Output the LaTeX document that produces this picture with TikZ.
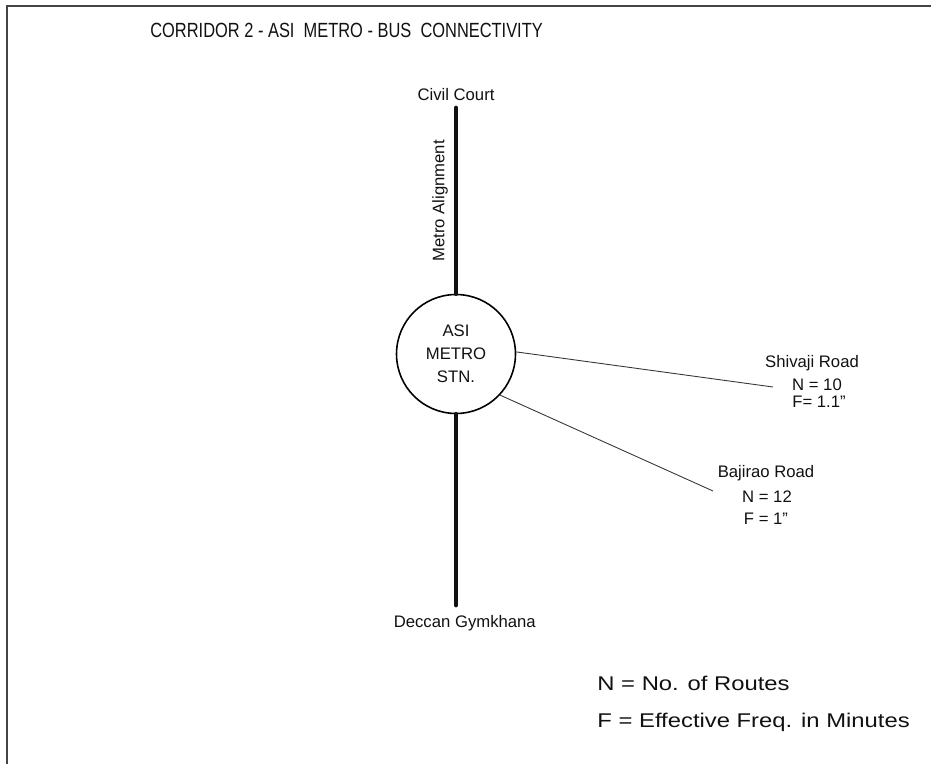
\documentclass[tikz,border=0pt]{standalone}
\usepackage{fontspec}
\setmainfont{Liberation Sans}
\usetikzlibrary{positioning}
\definecolor{ink}{HTML}{111111}
\definecolor{frame}{HTML}{444444}

\begin{document}
\begin{tikzpicture}[x=0.02cm,y=-0.02cm,font=\fontsize{9.5}{13}\selectfont]
\tikzset{
  lbl/.style={inner sep=0pt,text=ink},
  metroline/.style={line width=2.7pt,ink,line cap=round},
  feeder/.style={line width=0.5pt,ink!85},
  legend/.style={inner sep=0pt,anchor=west,text=ink,xscale=1.2,transform shape,font=\fontsize{11.3}{14}\selectfont}
}
\useasboundingbox (0,0) rectangle (931,764);
\draw[line width=1.1pt,frame] (7,764)--(7,6)--(931,6);

\node[lbl,anchor=west,yscale=1.25,transform shape,font=\fontsize{9.35}{12}\selectfont] (title) at (150,30)
  {CORRIDOR 2 - ASI\ \ METRO - BUS\ \ CONNECTIVITY};

% station and metro alignment
\node[draw,circle,line width=0.9pt,minimum size=2.38cm,inner sep=0pt,align=center,text=ink]
  (stn) at (456,354) {ASI\\METRO\\STN.};
\coordinate (northend) at (456,108);
\coordinate (southend) at (456,605);
\draw[metroline] (northend)--(stn.north);
\draw[metroline] (stn.south)--(southend);
\node[lbl,above=4pt of northend] (civil) {Civil Court};
\node[lbl,below=6pt of southend,xshift=5pt] (deccan) {Deccan Gymkhana};
\node[lbl,rotate=90] (alignment) at (440,201) {Metro Alignment};

% bus feeders
\coordinate (shivend) at (773,387);
\node[lbl] (shiv) at (812,363) {Shivaji Road};
\node[lbl] (shivn) at (817,385) {N =\ 10};
\node[lbl] (shivf) at (819,402) {F= 1.1\symbol{34}};
\draw[feeder] (stn.2)--(shivend);

\coordinate (bajiend) at (713,491);
\node[lbl] (baji) at (766,473) {Bajirao Road};
\node[lbl] (bajin) at (767,497) {N =\ 12};
\node[lbl] (bajif) at (766,519) {F =\ 1\symbol{34}};
\draw[feeder] (stn.-43)--(bajiend);

% legend
\node[legend] (legn) at (597,683) {N = No. of Routes};
\node[legend] (legf) at (597,722) {F = Effective Freq. in Minutes};
\end{tikzpicture}
\end{document}
